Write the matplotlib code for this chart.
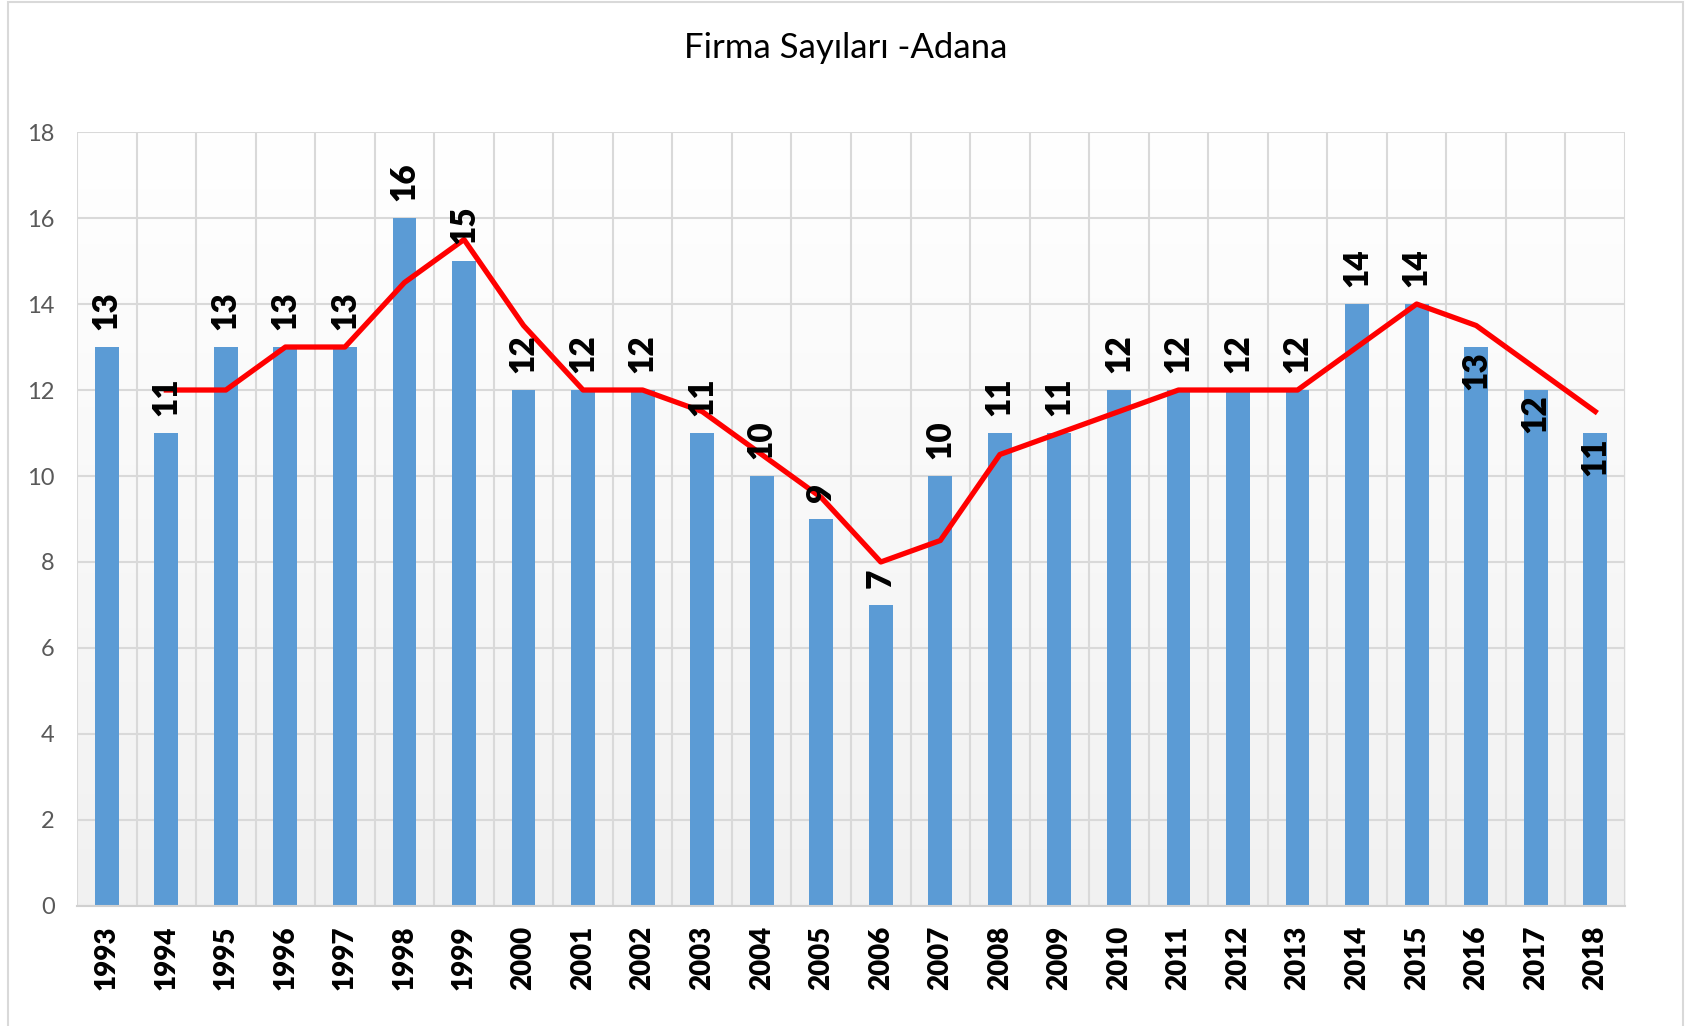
import numpy as np
import matplotlib.pyplot as plt
from matplotlib.patches import Rectangle

# Data
years = [1993, 1994, 1995, 1996, 1997, 1998, 1999, 2000, 2001, 2002, 2003, 2004, 2005,
         2006, 2007, 2008, 2009, 2010, 2011, 2012, 2013, 2014, 2015, 2016, 2017, 2018]
firms = [13, 11, 13, 13, 13, 16, 15, 12, 12, 12, 11, 10, 9,
         7, 10, 11, 11, 12, 12, 12, 12, 14, 14, 13, 12, 11]
# red trend line (2-period moving average as drawn in the chart)
trend = [np.nan, 12, 12, 13, 13, 14.5, 15.5, 13.5, 12, 12, 11.5, 10.5, 9.5,
         8, 8.5, 10.5, 11, 11.5, 12, 12, 12, 13, 14, 13.5, 12.5, 11.5]
labels_inside = [2016, 2017, 2018]

plt.rcParams['font.family'] = ['Lato', 'DejaVu Sans']

fig = plt.figure(figsize=(16.85, 10.26), dpi=100)
ax = fig.add_axes([0.0457, 0.1170, 0.9187, 0.7543])

x = np.arange(len(years))

# Gradient background of plot area (light gray at bottom, white at top)
grad = np.linspace(0.945, 1.0, 256).reshape(-1, 1)
ax.imshow(np.dstack([grad, grad, grad]), extent=(-0.5, len(years) - 0.5, 0, 18),
          origin='lower', aspect='auto', zorder=0)

ax.bar(x, firms, width=0.4, color='#5b9bd5', zorder=2)
ax.plot(x, trend, color='#ff0000', lw=3.8, zorder=3)

for xi, yr, v in zip(x, years, firms):
    if yr in labels_inside:
        ax.annotate(str(v), (xi, v), xytext=(0, -3), textcoords='offset points',
                    rotation=90, ha='center', va='top', fontsize=24,
                    fontweight='heavy', color='black', zorder=4)
    else:
        ax.annotate(str(v), (xi, v), xytext=(0, 12), textcoords='offset points',
                    rotation=90, ha='center', va='bottom', fontsize=24,
                    fontweight='heavy', color='black', zorder=4)

ax.set_xlim(-0.5, len(years) - 0.5)
ax.set_ylim(0, 18)
ax.set_yticks(range(0, 19, 2))
ax.set_xticks(x)
ax.set_xticklabels([str(y) for y in years], rotation=90, fontsize=20,
                   fontweight='heavy', color='black')
ax.set_xticks(np.arange(-0.5, len(years), 1), minor=True)
ax.tick_params(axis='y', labelsize=17, labelcolor='#595959', length=0, pad=16)
ax.tick_params(axis='x', which='both', length=0, pad=14)

ax.grid(axis='y', which='major', color='#d9d9d9', lw=1.5, zorder=1)
ax.grid(axis='x', which='minor', color='#d9d9d9', lw=1.5, zorder=1)
ax.set_axisbelow(True)
for s in ['top', 'right', 'left']:
    ax.spines[s].set_visible(False)
ax.spines['bottom'].set_color('#d0d0d0')
ax.spines['bottom'].set_linewidth(1.5)

fig.text(0.502, 0.953, 'Firma Sayıları -Adana', ha='center', va='center',
         fontsize=25, color='black')

# Chart border
fig.patches.append(Rectangle((0.005, -0.01), 0.994, 1.008, transform=fig.transFigure,
                             fill=False, edgecolor='#d9d9d9', lw=1.5))

plt.savefig('out.png', dpi=100)
